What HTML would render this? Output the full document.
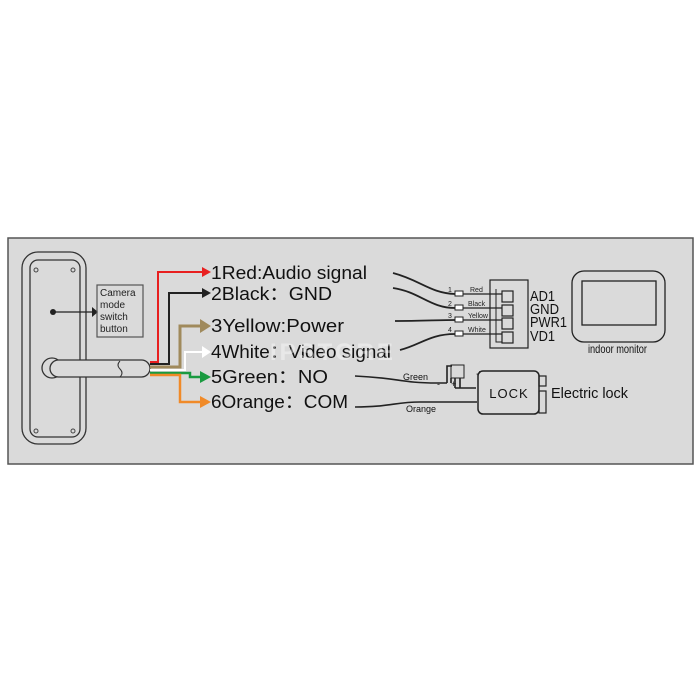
<!DOCTYPE html>
<html><head><style>
html,body{margin:0;padding:0;background:#fff;}
svg{display:block;}
text{font-family:"Liberation Sans",sans-serif;}
</style></head><body>
<svg width="700" height="700" viewBox="0 0 700 700" xmlns="http://www.w3.org/2000/svg">
<rect x="8" y="238" width="685" height="226" fill="#dadada" stroke="#555" stroke-width="1.5"/>
<rect x="22" y="252" width="64" height="192" rx="16" fill="none" stroke="#333" stroke-width="1.3"/>
<rect x="30" y="260" width="50" height="177" rx="8" fill="none" stroke="#333" stroke-width="1.3"/>
<g fill="none" stroke="#444" stroke-width="1"><circle cx="36" cy="270" r="2"/><circle cx="73" cy="270" r="2"/><circle cx="36" cy="431" r="2"/><circle cx="73" cy="431" r="2"/></g>
<circle cx="52" cy="368" r="10" fill="#dadada" stroke="#333" stroke-width="1.3"/>
<rect x="50" y="360" width="100" height="17" rx="8.5" fill="#dadada" stroke="#333" stroke-width="1.3"/>
<path d="M120 361 q-4 4 0 8 q4 4 0 8" fill="none" stroke="#333" stroke-width="1"/>
<circle cx="53" cy="312" r="3" fill="#222"/>
<line x1="53" y1="312" x2="92" y2="312" stroke="#222" stroke-width="1.2"/>
<polygon points="92,307 98,312 92,317" fill="#222"/>
<rect x="97" y="285" width="46" height="52" fill="none" stroke="#555" stroke-width="1.2"/>
<text font-size="10" fill="#222"><tspan x="100" y="296">Camera</tspan><tspan x="100" y="308">mode</tspan><tspan x="100" y="320">switch</tspan><tspan x="100" y="332">button</tspan></text>
<g fill="none" stroke-width="2">
<path d="M150 362 H158 V272 H204" stroke="#e82020"/>
<path d="M150 364 H169 V293 H204" stroke="#222"/>
<path d="M150 367 H180 V326 H202" stroke="#a08a5c" stroke-width="3"/>
<path d="M150 370 H185 V352 H204" stroke="#fff"/>
<path d="M150 373 H190 V377 H202" stroke="#1a9a40" stroke-width="2.5"/>
<path d="M150 375 H180 V402 H202" stroke="#f08a28" stroke-width="2.5"/>
</g>
<polygon points="202,267 211,272 202,277" fill="#e82020"/>
<polygon points="202,288 211,293 202,298" fill="#222"/>
<polygon points="200,319 211,326 200,333" fill="#a08a5c"/>
<polygon points="202,346 211,352 202,358" fill="#fff"/>
<polygon points="200,371 211,377 200,383" fill="#1a9a40"/>
<polygon points="200,396 211,402 200,408" fill="#f08a28"/>
<g font-size="18" fill="#111">
<text x="211" y="279" textLength="156" lengthAdjust="spacingAndGlyphs">1Red:Audio signal</text>
<text x="211" y="300" textLength="121" lengthAdjust="spacingAndGlyphs">2Black：GND</text>
<text x="211" y="332" textLength="133" lengthAdjust="spacingAndGlyphs">3Yellow:Power</text>
<text x="211" y="358" textLength="180" lengthAdjust="spacingAndGlyphs">4White：Video signal</text>
<text x="211" y="383" textLength="117" lengthAdjust="spacingAndGlyphs">5Green：NO</text>
<text x="211" y="408" textLength="137" lengthAdjust="spacingAndGlyphs">6Orange：COM</text>
</g>
<text x="270" y="360" font-size="24" font-weight="bold" fill="#fff" opacity="0.4" letter-spacing="3">IPSTORE</text>
<g fill="none" stroke="#222" stroke-width="1.8">
<path d="M393 273 C420 280 430 293 455 294"/>
<path d="M393 288 C420 292 430 308 455 308"/>
<path d="M395 321 C420 321 440 320 455 320"/>
<path d="M400 350 C420 345 430 334 455 334"/>
</g>
<g fill="#fff" stroke="#222" stroke-width="1"><rect x="455" y="291" width="8" height="5"/><rect x="455" y="305" width="8" height="5"/><rect x="455" y="317" width="8" height="5"/><rect x="455" y="331" width="8" height="5"/></g>
<g stroke="#222" stroke-width="1.2"><line x1="463" y1="294" x2="502" y2="294"/><line x1="463" y1="308" x2="502" y2="308"/><line x1="463" y1="320" x2="502" y2="320"/><line x1="463" y1="334" x2="502" y2="334"/></g>
<g font-size="7" fill="#222"><text x="448" y="292">1</text><text x="448" y="306">2</text><text x="448" y="318">3</text><text x="448" y="332">4</text>
<text x="470" y="292">Red</text><text x="468" y="306">Black</text><text x="468" y="318">Yellow</text><text x="468" y="332">White</text></g>
<rect x="490" y="280" width="38" height="68" fill="none" stroke="#222" stroke-width="1.2"/>
<path d="M496 289 V342 H502" fill="none" stroke="#222" stroke-width="1"/>
<g fill="none" stroke="#222" stroke-width="1.2"><rect x="502" y="291" width="11" height="11"/><rect x="502" y="305" width="11" height="11"/><rect x="502" y="318" width="11" height="11"/><rect x="502" y="332" width="11" height="11"/></g>
<g font-size="15" fill="#111"><text x="530" y="301" textLength="25" lengthAdjust="spacingAndGlyphs">AD1</text><text x="530" y="314" textLength="29" lengthAdjust="spacingAndGlyphs">GND</text><text x="530" y="327" textLength="37" lengthAdjust="spacingAndGlyphs">PWR1</text><text x="530" y="341" textLength="25" lengthAdjust="spacingAndGlyphs">VD1</text></g>
<rect x="572" y="271" width="93" height="71" rx="12" fill="none" stroke="#222" stroke-width="1.3"/>
<rect x="582" y="281" width="74" height="44" fill="none" stroke="#222" stroke-width="1.3"/>
<text x="588" y="353" font-size="12" fill="#111" textLength="59" lengthAdjust="spacingAndGlyphs">indoor monitor</text>
<g fill="none" stroke="#222" stroke-width="1.6">
<path d="M355 376 C400 378 400 383 437 383 H447"/>
<path d="M447 383 V366 H452"/>
<path d="M451 383 V378"/><path d="M455 388 V378 M460 378 V388"/>
<path d="M455 388 H476"/>
<path d="M355 407 C390 407 395 402 420 402 H477"/>
</g>
<rect x="451" y="365" width="13" height="13" fill="none" stroke="#222" stroke-width="1"/>
<g font-size="9" fill="#111"><text x="403" y="380">Green</text><text x="406" y="412">Orange</text><text x="437" y="387">-</text><text x="451" y="387">+</text></g>
<text x="476" y="378" font-size="12" fill="#111">+</text><text x="478" y="414" font-size="12" fill="#111">−</text>
<rect x="478" y="371" width="61" height="43" rx="5" fill="#dadada" stroke="#222" stroke-width="1.5"/>
<rect x="539" y="376" width="7" height="10" fill="none" stroke="#222" stroke-width="1.2"/>
<rect x="539" y="391" width="7" height="22" fill="none" stroke="#222" stroke-width="1.2"/>
<text x="509" y="398" font-size="13" text-anchor="middle" fill="#111" letter-spacing="1">LOCK</text>
<text x="551" y="398" font-size="15" fill="#111" textLength="77" lengthAdjust="spacingAndGlyphs">Electric lock</text>
</svg>
</body></html>
